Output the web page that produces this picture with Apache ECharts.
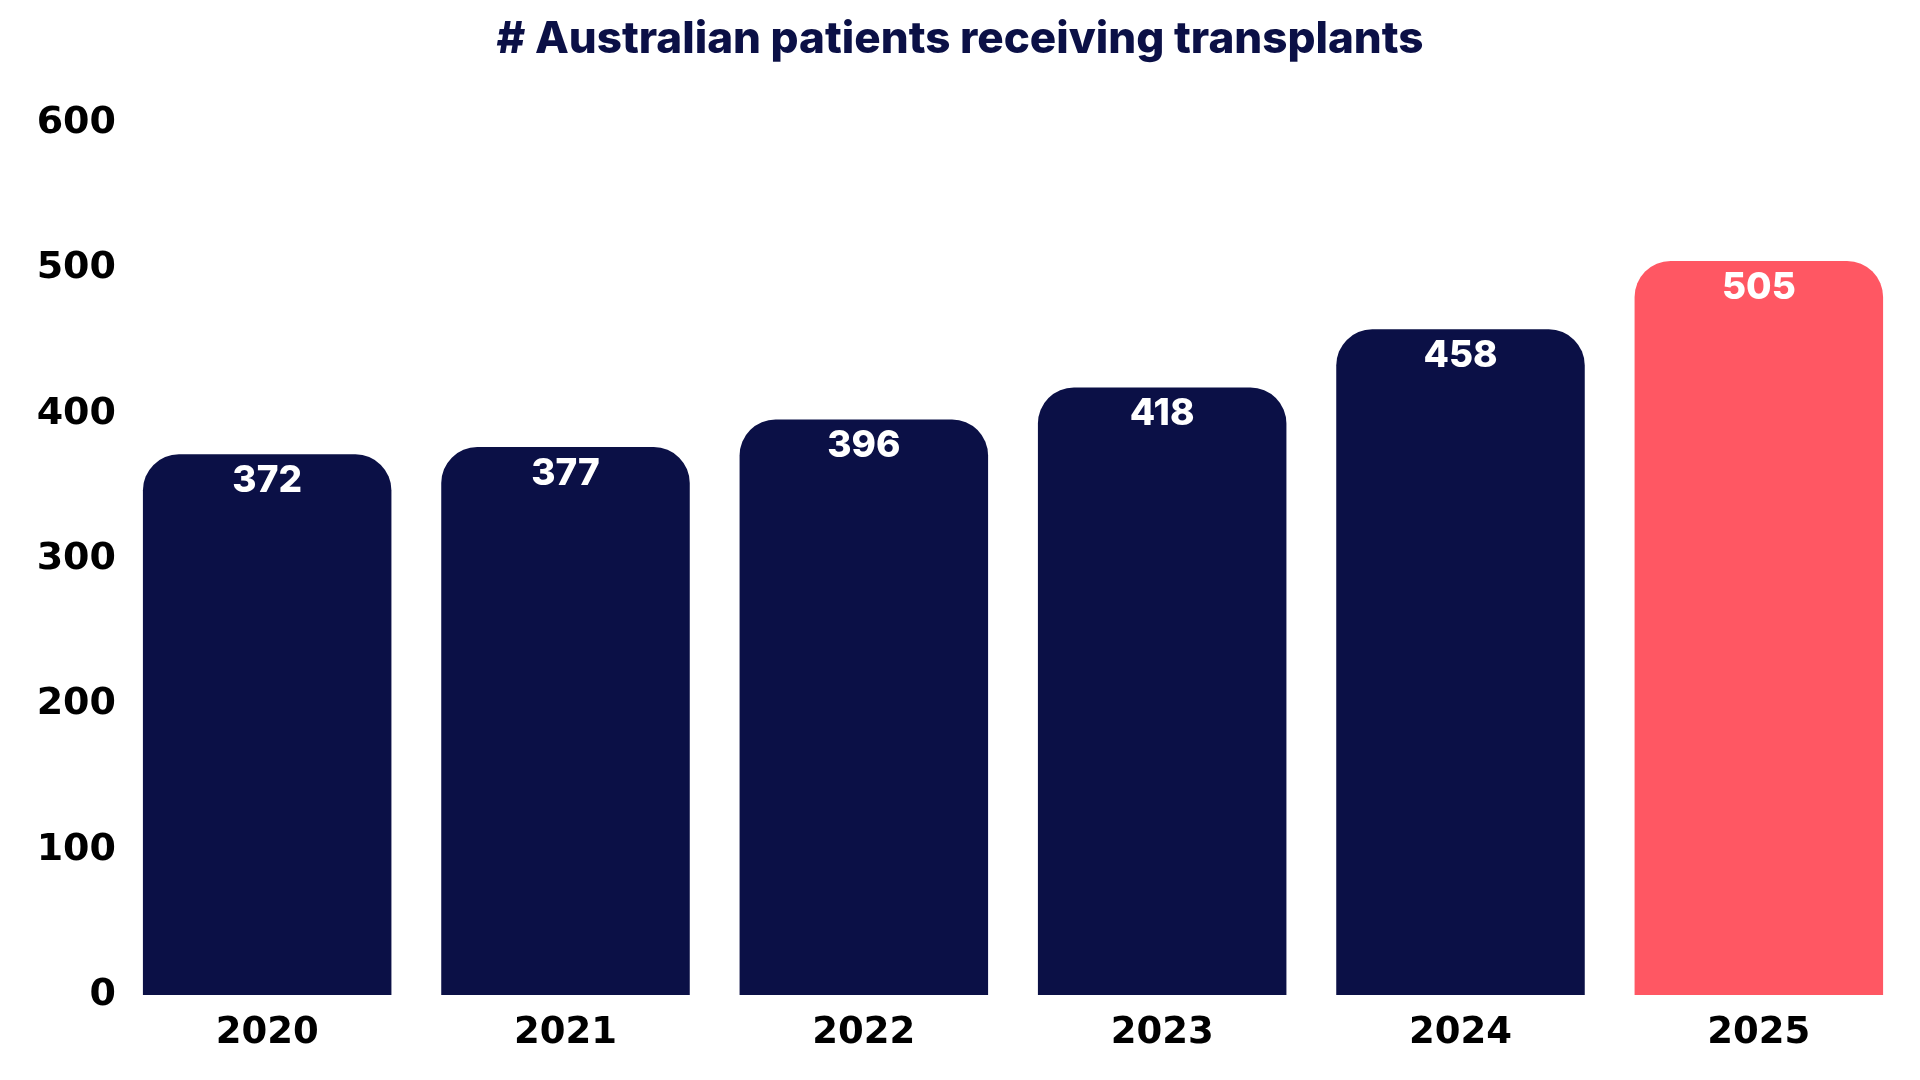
<!DOCTYPE html>
<html>
<head>
<meta charset="utf-8">
<script src="https://cdn.jsdelivr.net/npm/echarts@6/dist/echarts.min.js"></script>
<style>
  html, body { margin: 0; padding: 0; background: #fff; }
  #chart { width: 1920px; height: 1080px; }
</style>
</head>
<body>
<div id="chart"></div>
<script>
// data
var years = ['2020', '2021', '2022', '2023', '2024', '2025'];
var patients = [372, 377, 396, 418, 458, 505];
var barColors = ['#0b1046', '#0b1046', '#0b1046', '#0b1046', '#0b1046', '#ff5763'];

var chart = echarts.init(document.getElementById('chart'));
chart.setOption({
  title: {
    text: '# Australian patients receiving transplants',
    left: 'center',
    top: 13,
    textStyle: { fontFamily: 'Inter', fontWeight: 800, fontSize: 44, color: '#0b1046' }
  },
  grid: { left: 118, right: 12, top: 123, bottom: 85, containLabel: false },
  xAxis: {
    type: 'category',
    data: years,
    axisLine: { show: false },
    axisTick: { show: false },
    axisLabel: {
      margin: 20,
      color: '#000',
      fontFamily: 'DejaVu Sans',
      fontWeight: 'bold',
      fontSize: 37
    }
  },
  yAxis: {
    type: 'value',
    min: 0,
    max: 600,
    interval: 100,
    splitLine: { show: false },
    axisLine: { show: false },
    axisTick: { show: false },
    axisLabel: {
      margin: 2,
      color: '#000',
      fontFamily: 'DejaVu Sans',
      fontWeight: 'bold',
      fontSize: 38
    }
  },
  series: [{
    type: 'bar',
    barCategoryGap: '16.7%',
    data: patients.map(function (v, i) {
      return { value: v, itemStyle: { color: barColors[i] } };
    }),
    itemStyle: { borderRadius: [36, 36, 0, 0] },
    label: {
      show: true,
      position: 'insideTop',
      distance: 8,
      color: '#fff',
      fontFamily: 'Inter',
      fontWeight: 800,
      fontSize: 37
    }
  }]
});
</script>
</body>
</html>
